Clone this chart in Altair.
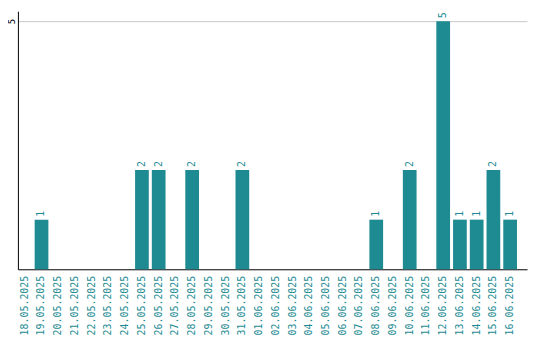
import altair as alt
import pandas as pd

dates = ["18.05.2025", "19.05.2025", "20.05.2025", "21.05.2025", "22.05.2025",
         "23.05.2025", "24.05.2025", "25.05.2025", "26.05.2025", "27.05.2025",
         "28.05.2025", "29.05.2025", "30.05.2025", "31.05.2025", "01.06.2025",
         "02.06.2025", "03.06.2025", "04.06.2025", "05.06.2025", "06.06.2025",
         "07.06.2025", "08.06.2025", "09.06.2025", "10.06.2025", "11.06.2025",
         "12.06.2025", "13.06.2025", "14.06.2025", "15.06.2025", "16.06.2025"]
counts = [0, 1, 0, 0, 0, 0, 0, 2, 2, 0,
          2, 0, 0, 2, 0, 0, 0, 0, 0, 0,
          0, 1, 0, 2, 0, 5, 1, 1, 2, 1]

df = pd.DataFrame({"date": dates, "count": counts})

COLOR = "#1e8b92"
FONT = "DejaVu Sans Mono"

x = alt.X("date:O", sort=None,
          scale=alt.Scale(paddingInner=0.18, paddingOuter=0.3, align=0),
          axis=alt.Axis(labelAngle=-90, labelColor=COLOR, labelFont=FONT,
                        labelFontSize=10, ticks=False, domainColor="black",
                        title=None, labelPadding=6))
y = alt.Y("count:Q", scale=alt.Scale(domain=[0, 5.2], nice=False),
          axis=alt.Axis(values=[5], ticks=False, domainColor="black",
                        gridColor="#c8c8c8", labelAngle=-90, labelFont=FONT,
                        labelFontSize=9, labelColor="black", title=None,
                        labelPadding=1))

base = alt.Chart(df)
bars = base.mark_bar(color=COLOR).encode(x=x, y=y)
labels = base.transform_filter("datum.count > 0").mark_text(
    angle=270, align="left", baseline="middle", dx=3, color=COLOR,
    font=FONT, fontSize=10
).encode(x=x, y=y, text="count:Q")

chart = (bars + labels).properties(
    width=513, height=260,
    padding={"left": 10, "top": 2, "right": 5, "bottom": 70},
    autosize="none"
).configure_view(stroke=None)

chart.save("out.html", embed_options={"renderer": "svg", "actions": False})
